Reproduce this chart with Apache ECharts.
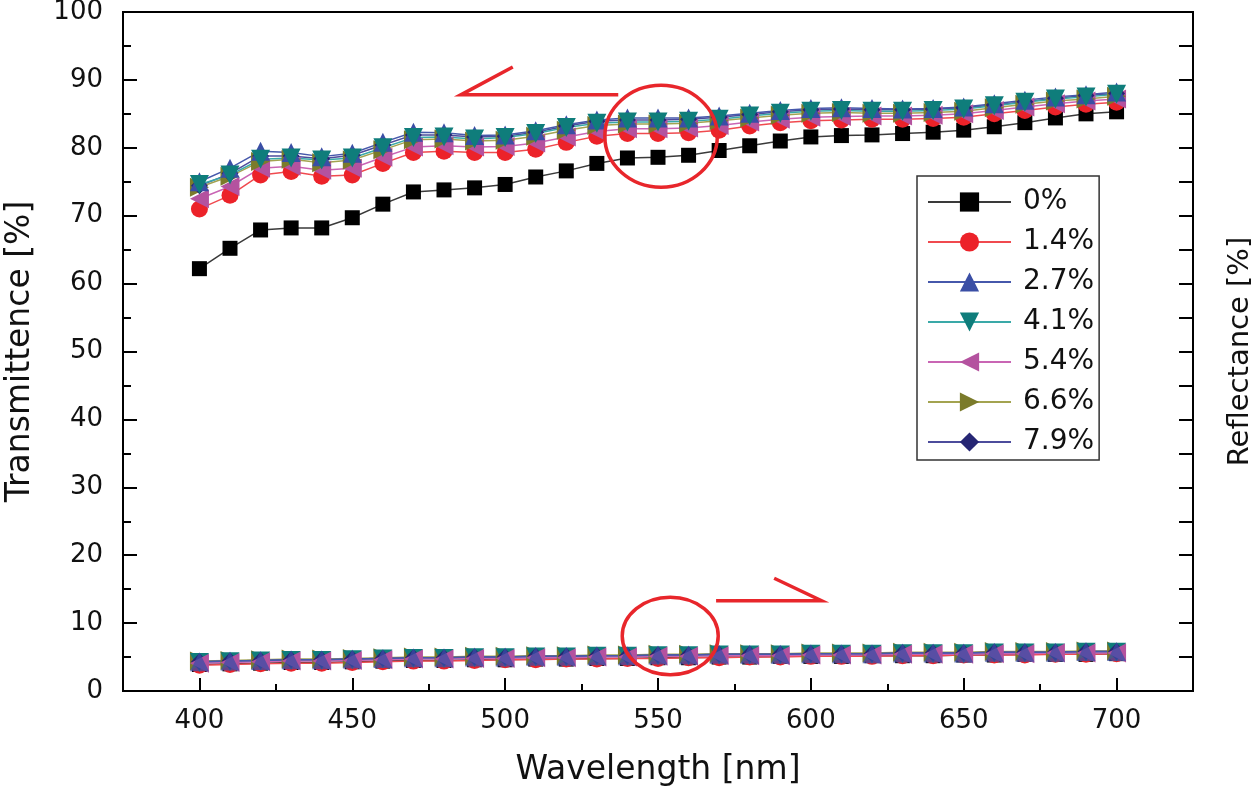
<!DOCTYPE html>
<html>
<head>
<meta charset="utf-8">
<script src="https://cdn.jsdelivr.net/npm/echarts@6/dist/echarts.min.js"></script>
<style>
html,body{margin:0;padding:0;background:#fff;}
#chart{width:1260px;height:786px;}
</style>
</head>
<body>
<div id="chart"></div>
<script>
// ---------- data ----------
var wavelength = [400,410,420,430,440,450,460,470,480,490,500,510,520,530,540,550,560,570,580,590,600,610,620,630,640,650,660,670,680,690,700];
var seriesNames = ['0%','1.4%','2.7%','4.1%','5.4%','6.6%','7.9%'];
var xTicks = [400,450,500,550,600,650,700];
var xMinorTicks = [425,475,525,575,625,675];

// Transmittance [%]
var T_0  = [62.2,65.2,67.9,68.2,68.2,69.7,71.7,73.5,73.8,74.1,74.6,75.7,76.6,77.7,78.5,78.6,78.9,79.6,80.3,81.0,81.6,81.8,81.9,82.1,82.3,82.6,83.1,83.7,84.4,85.0,85.3];
var T_14 = [71.0,73.0,76.0,76.5,75.8,76.0,77.7,79.3,79.5,79.3,79.3,79.8,80.8,81.7,82.1,82.1,82.2,82.6,83.2,83.7,84.0,84.1,84.2,84.2,84.3,84.5,85.0,85.5,86.0,86.4,86.7];
var T_27 = [75.0,77.0,79.5,79.3,78.7,79.2,80.8,82.3,82.2,81.8,81.9,82.5,83.4,84.1,84.4,84.4,84.4,84.7,85.1,85.5,85.8,85.9,85.8,85.7,85.8,86.0,86.5,87.0,87.5,87.8,88.2];
var T_41 = [74.6,76.0,78.3,78.5,78.2,78.5,80.0,81.5,81.6,81.3,81.5,82.1,83.0,83.6,83.8,83.8,83.9,84.2,84.7,85.1,85.4,85.5,85.4,85.4,85.5,85.7,86.2,86.7,87.2,87.5,87.9];
var T_54 = [72.5,74.3,77.0,77.3,76.7,77.0,78.6,80.1,80.3,80.1,80.2,80.7,81.6,82.4,82.8,82.8,82.9,83.3,83.8,84.2,84.5,84.6,84.7,84.7,84.8,85.0,85.5,86.0,86.5,86.9,87.2];
var T_66 = [74.2,75.8,78.0,78.3,77.8,78.2,79.7,81.2,81.3,81.0,81.1,81.7,82.6,83.3,83.5,83.5,83.6,84.0,84.4,84.8,85.1,85.2,85.1,85.1,85.2,85.4,85.9,86.4,86.9,87.2,87.6];
var T_79 = [74.4,76.2,78.8,78.8,78.4,78.9,80.4,81.9,81.9,81.6,81.7,82.3,83.2,83.9,84.1,84.1,84.2,84.5,84.9,85.3,85.6,85.7,85.6,85.6,85.7,85.9,86.3,86.8,87.3,87.7,88.0];

// Reflectance [%]
var R_0  = [3.9,4.0,4.1,4.2,4.2,4.3,4.4,4.5,4.5,4.6,4.6,4.7,4.7,4.8,4.8,4.9,4.9,5.0,5.0,5.1,5.1,5.1,5.2,5.2,5.2,5.3,5.3,5.4,5.4,5.4,5.5];
var R_14 = [3.8,3.9,4.0,4.1,4.1,4.2,4.3,4.4,4.4,4.5,4.6,4.6,4.7,4.7,4.8,4.8,4.9,4.9,5.0,5.0,5.1,5.1,5.1,5.2,5.2,5.3,5.3,5.3,5.4,5.4,5.5];
var R_27 = [4.3,4.4,4.5,4.6,4.6,4.7,4.8,4.9,4.9,5.0,5.0,5.1,5.1,5.2,5.2,5.3,5.3,5.4,5.4,5.4,5.5,5.5,5.5,5.6,5.6,5.6,5.7,5.7,5.7,5.8,5.8];
var R_41 = [4.2,4.3,4.4,4.5,4.5,4.6,4.7,4.8,4.8,4.9,4.9,5.0,5.0,5.1,5.1,5.2,5.2,5.3,5.3,5.3,5.4,5.4,5.4,5.5,5.5,5.5,5.6,5.6,5.6,5.7,5.7];
var R_54 = [4.1,4.2,4.3,4.4,4.4,4.5,4.6,4.7,4.7,4.8,4.8,4.9,4.9,5.0,5.0,5.1,5.1,5.2,5.2,5.2,5.3,5.3,5.3,5.4,5.4,5.4,5.5,5.5,5.6,5.6,5.6];
var R_66 = [4.4,4.5,4.6,4.7,4.7,4.8,4.9,5.0,5.0,5.1,5.1,5.2,5.2,5.3,5.3,5.4,5.4,5.5,5.5,5.5,5.6,5.6,5.6,5.7,5.7,5.7,5.8,5.8,5.8,5.9,5.9];
var R_79 = [4.3,4.4,4.5,4.6,4.6,4.7,4.8,4.9,4.9,5.0,5.0,5.1,5.1,5.2,5.2,5.3,5.3,5.4,5.4,5.4,5.5,5.5,5.5,5.6,5.6,5.6,5.7,5.7,5.7,5.8,5.8];

// ---------- styles ----------
var FONT = 'DejaVu Sans';
var styles = {
  '0%':   {T:T_0,  R:R_0,  color:'#000000', line:'#3a3a3a', symbol:'rect',     rot:0,   size:15},
  '1.4%': {T:T_14, R:R_14, color:'#ec2229', line:'#f04a4f', symbol:'circle',   rot:0,   size:17},
  '2.7%': {T:T_27, R:R_27, color:'#3a4ea5', line:'#4658ab', symbol:'triangle', rot:0,   size:19},
  '4.1%': {T:T_41, R:R_41, color:'#0f7d7b', line:'#3aa9a8', symbol:'triangle', rot:180, size:19},
  '5.4%': {T:T_54, R:R_54, color:'#b4529f', line:'#c965b4', symbol:'triangle', rot:90,  size:19},
  '6.6%': {T:T_66, R:R_66, color:'#7b7b2b', line:'#a3a350', symbol:'triangle', rot:-90, size:19},
  '7.9%': {T:T_79, R:R_79, color:'#262674', line:'#4c4c9c', symbol:'diamond',  rot:0,   size:17}
};
// drawing order (later on top)
var drawOrderT = ['0%','1.4%','5.4%','6.6%','7.9%','2.7%','4.1%'];
var drawOrderR = ['0%','1.4%','6.6%','4.1%','7.9%','5.4%','2.7%'];

function pairs(xs, ys){ return xs.map(function(x,i){ return [x, ys[i]]; }); }
function mk(name, key, yIdx, opacity){
  var s = styles[name];
  return {
    name: name, type:'line', xAxisIndex:0, yAxisIndex:yIdx,
    data: pairs(wavelength, s[key]),
    symbol: s.symbol, symbolRotate: s.rot, symbolSize: s.size,
    showSymbol: true,
    itemStyle:{color:s.color, opacity:opacity},
    lineStyle:{color:s.line, width:1.5},
    emphasis:{disabled:true},
    z: 2
  };
}
var series = [];
drawOrderT.forEach(function(n){ series.push(mk(n,'T',0,1)); });
drawOrderR.forEach(function(n){ series.push(mk(n,'R',1, n === '2.7%' ? 0.75 : 1)); });

var chart = echarts.init(document.getElementById('chart'), null, {renderer:'canvas'});
var option = {
  animation:false,
  backgroundColor:'#fff',
  textStyle:{fontFamily:FONT},
  grid:{left:123, right:67, top:12, bottom:95, outerBoundsMode:'none', containLabel:false,
        show:true, borderColor:'#000', borderWidth:2, backgroundColor:'transparent'},
  legend:{
    orient:'vertical', left:917, top:176,
    itemWidth:83, itemHeight:24, itemGap:10,
    padding:[11,5,3,10],
    borderColor:'#333', borderWidth:1.5, backgroundColor:'#fff',
    textStyle:{fontFamily:FONT, fontSize:28, lineHeight:30, color:'#111', padding:[0,0,0,7]},
    data: seriesNames
  },
  xAxis:[{
    type:'value', min:375, max:725, position:'bottom',
    name:'Wavelength [nm]', nameLocation:'middle', nameGap:63,
    nameTextStyle:{fontFamily:FONT, fontSize:33, color:'#111'},
    axisLine:{show:true, lineStyle:{color:'#000', width:2}},
    axisTick:{show:true, inside:true, length:13, lineStyle:{color:'#000', width:2}, customValues:xTicks},
    axisLabel:{show:true, customValues:xTicks, margin:17, fontFamily:FONT, fontSize:26, color:'#111'},
    splitLine:{show:false}
  },{
    type:'value', min:375, max:725, position:'bottom',
    axisLine:{show:false},
    axisTick:{show:true, inside:true, length:7, lineStyle:{color:'#000', width:2}, customValues:xMinorTicks},
    axisLabel:{show:false},
    splitLine:{show:false}
  }],
  yAxis:[{
    type:'value', min:0, max:100, interval:10, position:'left',
    name:'Transmittence [%]', nameLocation:'middle', nameGap:86,
    nameTextStyle:{fontFamily:FONT, fontSize:33, color:'#111'},
    axisLine:{show:true, lineStyle:{color:'#000', width:2}},
    axisTick:{show:true, inside:true, length:14, lineStyle:{color:'#000', width:2}},
    minorTick:{show:true, splitNumber:2, length:8, lineStyle:{color:'#000', width:2}},
    axisLabel:{margin:20, fontFamily:FONT, fontSize:26, color:'#111'},
    splitLine:{show:false}
  },{
    type:'value', min:0, max:100, interval:5, position:'right',
    name:'Reflectance [%]', nameLocation:'middle', nameGap:33,
    nameTextStyle:{fontFamily:FONT, fontSize:29, color:'#111'},
    axisLine:{show:true, lineStyle:{color:'#000', width:2}},
    axisTick:{show:true, inside:true, length:14, lineStyle:{color:'#000', width:2}},
    axisLabel:{show:false},
    splitLine:{show:false}
  }],
  series: series
};
chart.setOption(option);

// ---------- annotations (red ellipses & arrows), defined in data coordinates ----------
var annotations = {
  ellipses:[ {cx:551, cy:81.7, rx:18.4, ry:7.5}, {cx:554, cy:8.1, rx:15.7, ry:5.7} ],
  arrows:[
    {from:[537,87.8], to:[485.5,87.8], head:[502.5,91.9]},
    {from:[569,13.3], to:[603.5,13.3], head:[588,16.6]}
  ]
};
function px(p){ return chart.convertToPixel({xAxisIndex:0, yAxisIndex:0}, p); }
var RED = '#e8262b';
var gfx = [];
annotations.ellipses.forEach(function(e){
  var c = px([e.cx, e.cy]);
  var ex = px([e.cx + e.rx, e.cy]);
  var ey = px([e.cx, e.cy + e.ry]);
  gfx.push({type:'ellipse', shape:{cx:c[0], cy:c[1], rx:Math.abs(ex[0]-c[0]), ry:Math.abs(c[1]-ey[1])},
    style:{fill:'none', stroke:RED, lineWidth:3.5}, z:100, silent:true});
});
annotations.arrows.forEach(function(a){
  var p1 = px(a.from), p2 = px(a.to), p3 = px(a.head);
  gfx.push({type:'polyline', shape:{points:[p1,p2,p3]}, style:{fill:'none', stroke:RED, lineWidth:3.5, lineJoin:'miter'}, z:100, silent:true});
});
chart.setOption({graphic:gfx});
</script>
</body>
</html>
